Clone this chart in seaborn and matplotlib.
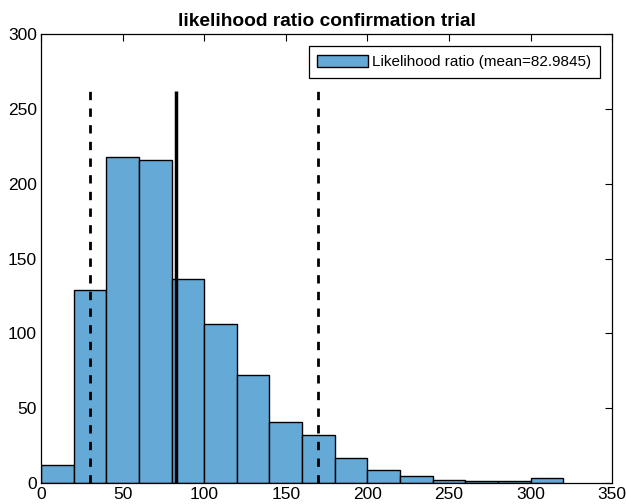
import matplotlib
matplotlib.use("Agg")
import matplotlib.pyplot as plt
import seaborn as sns
import numpy as np
import pandas as pd

bin_edges = [0, 20, 40, 60, 80, 100, 120, 140, 160, 180, 200, 220, 240, 260, 280, 300, 320]
counts = [12, 129, 218, 216, 136, 106, 72, 41, 32, 17, 9, 5, 2, 1, 1, 3]
mean_value = 82.9845
lower_bound = 30
upper_bound = 170
line_top = 262
title = "likelihood ratio confirmation trial"
legend_label = "Likelihood ratio (mean=82.9845)"

sns.set_style("white")
plt.rcParams['font.family'] = ['Liberation Sans', 'DejaVu Sans']
plt.rcParams['text.color'] = 'black'
plt.rcParams['axes.labelcolor'] = 'black'

centers = [(a + b) / 2 for a, b in zip(bin_edges[:-1], bin_edges[1:])]
df = pd.DataFrame({"x": centers, "w": counts})

fig = plt.figure(figsize=(6.26, 5.04), dpi=100)
ax = fig.add_axes([0.0655, 0.0417, 0.9125, 0.8908])

sns.histplot(data=df, x="x", weights="w", bins=bin_edges, ax=ax,
             color="#65a9d7", edgecolor="black", linewidth=1.0, alpha=1.0,
             label=legend_label)

ax.vlines([mean_value], 0, line_top, colors="black", linewidth=2.5)
ax.vlines([lower_bound, upper_bound], 0, line_top, colors="black",
          linewidth=2, linestyles=(0, (3, 3)))

ax.set_xlim(0, 350)
ax.set_ylim(0, 300)
ax.set_xticks(range(0, 351, 50))
ax.set_yticks(range(0, 301, 50))
ax.set_xlabel("")
ax.set_ylabel("")
ax.set_title(title, fontsize=13.8, fontweight="bold", pad=6, color="black")
ax.tick_params(direction="in", top=True, right=True, length=5, width=0.8,
               labelsize=12.5, colors="black", pad=3)
for s in ax.spines.values():
    s.set_visible(True)
    s.set_color("black")
    s.set_linewidth(0.9)

leg = ax.legend(loc="upper right", fontsize=11, frameon=True, fancybox=False,
                edgecolor="black", framealpha=1, borderaxespad=0.8,
                handlelength=3.3, handleheight=0.9, handletextpad=0.3,
                borderpad=0.55)
leg.get_frame().set_linewidth(0.9)
for t in leg.get_texts():
    t.set_color("black")

fig.savefig("out.png", dpi=100)
